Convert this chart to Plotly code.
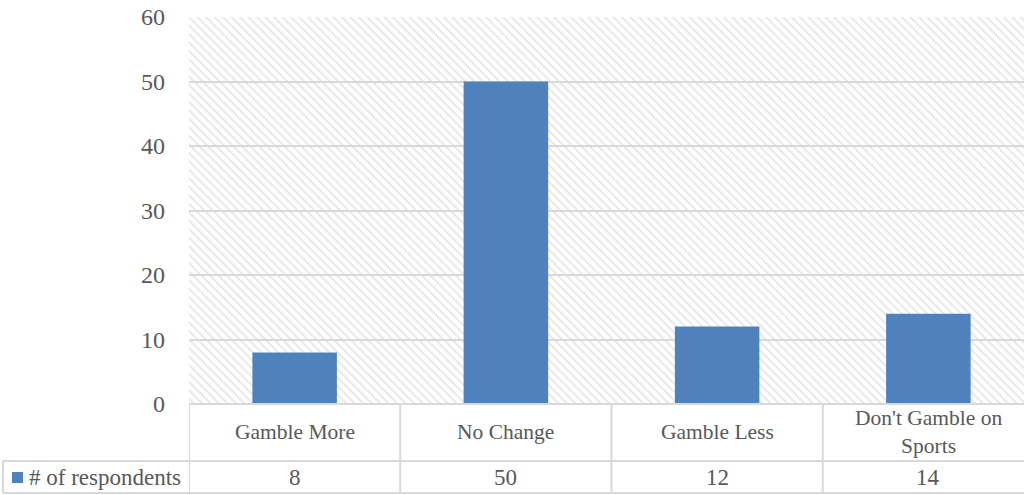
import plotly.graph_objects as go

categories = ["Gamble More", "No Change", "Gamble Less", "Don't Gamble on<br>Sports"]
values = [8, 50, 12, 14]
series_name = "# of respondents"
y_ticks = [0, 10, 20, 30, 40, 50, 60]

FONT = "Liberation Serif"
TXT = "#595959"
GRID = "#d9d9d9"
BLUE = "#4f81bd"

W, H = 1036, 495
L, R, T, B = 189, 2, 17, 91
pw, ph = W - L - R, H - T - B

def px_x(x):
    return (x - L) / pw

def px_y(y):
    return (H - B - y) / ph

fig = go.Figure()

# hatched background (decoration) on a hidden subplot drawn first
fig.add_trace(go.Scatter(
    x=[0, 1, 1, 0, 0], y=[0, 0, 1, 1, 0], mode="lines", fill="toself",
    line=dict(width=0), fillcolor="white",
    fillpattern=dict(shape="\\", fgcolor="#cccccc", bgcolor="white", size=6, solidity=0.3),
    hoverinfo="skip", showlegend=False, xaxis="x", yaxis="y"))

fig.add_trace(go.Bar(
    x=list(range(len(categories))), y=values, marker=dict(color=BLUE, line=dict(width=0)),
    width=0.40, name=series_name, showlegend=False, xaxis="x2", yaxis="y2"))

shapes = []
lc = dict(color=GRID, width=2)
n = len(categories)
shapes.append(dict(type="line", xref="paper", yref="paper", x0=0, x1=1, y0=0, y1=0, line=lc, layer="above"))
shapes.append(dict(type="line", xref="paper", yref="paper", x0=px_x(3), x1=1, y0=px_y(461), y1=px_y(461), line=lc, layer="above"))
shapes.append(dict(type="line", xref="paper", yref="paper", x0=px_x(3), x1=1, y0=px_y(493), y1=px_y(493), line=lc, layer="above"))
shapes.append(dict(type="line", xref="paper", yref="paper", x0=px_x(3), x1=px_x(3), y0=px_y(461), y1=px_y(493), line=lc, layer="above"))
for i in range(n + 1):
    xb = i - 0.5
    shapes.append(dict(type="line", xref="x2", yref="paper", x0=xb, x1=xb, y0=0, y1=px_y(493), line=lc, layer="above"))
shapes.append(dict(type="rect", xref="paper", yref="paper", x0=px_x(12), x1=px_x(23),
                   y0=px_y(483), y1=px_y(472), fillcolor=BLUE, line=dict(width=0), layer="above"))

annotations = []
for i, (c, v) in enumerate(zip(categories, values)):
    annotations.append(dict(x=i, xref="x2", y=px_y(432), yref="paper", text=c, showarrow=False,
                            xanchor="center", yanchor="middle", font=dict(family=FONT, size=21.5, color=TXT)))
    annotations.append(dict(x=i, xref="x2", y=px_y(477), yref="paper", text=str(v), showarrow=False,
                            xanchor="center", yanchor="middle", font=dict(family=FONT, size=23, color=TXT)))
annotations.append(dict(x=px_x(183), xref="paper", y=px_y(477), yref="paper", text=series_name, showarrow=False,
                        xanchor="right", yanchor="middle", font=dict(family=FONT, size=23, color=TXT)))

fig.update_layout(
    width=W, height=H,
    margin=dict(l=L, r=R, t=T, b=B),
    paper_bgcolor="white", plot_bgcolor="rgba(0,0,0,0)",
    xaxis=dict(domain=[0, 1], range=[0, 1], visible=False, anchor="y", fixedrange=True),
    yaxis=dict(domain=[0, 1], range=[0, 1], visible=False, anchor="x", fixedrange=True),
    xaxis2=dict(domain=[0, 1], range=[-0.5, n - 0.5], anchor="y2", showticklabels=False,
                showgrid=False, zeroline=False, showline=False, ticks=""),
    yaxis2=dict(domain=[0, 1], range=[0, 60], anchor="x2", tickvals=y_ticks,
                showgrid=True, gridcolor=GRID, gridwidth=2, zeroline=False, showline=False,
                ticks="", ticklabelstandoff=23,
                tickfont=dict(family=FONT, size=24, color=TXT)),
    shapes=shapes, annotations=annotations,
    bargap=0.6,
)

fig.write_html("out.html", config={"displayModeBar": False},
               post_script="document.body.style.margin='0';document.body.style.overflow='hidden';")
